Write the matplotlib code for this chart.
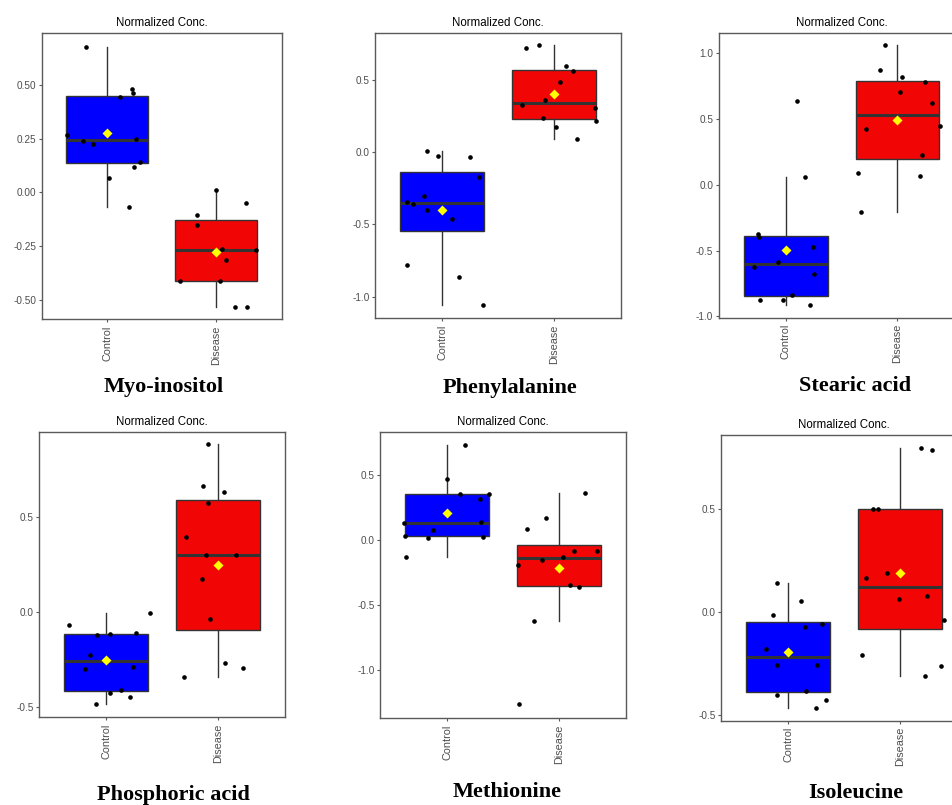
import matplotlib
matplotlib.use("Agg")
import matplotlib.pyplot as plt
import numpy as np

W, H = 953, 805

groups = ["Control", "Disease"]
names = ["Myo-inositol", "Phenylalanine", "Stearic acid",
         "Phosphoric acid", "Methionine", "Isoleucine"]

# --- values ---
myo_ctrl = [0.678, 0.266, 0.241, 0.226, 0.444, 0.480, 0.464, 0.250, 0.120, 0.140, 0.066, -0.067]
myo_ctrl_jit = [-0.19, -0.37, -0.22, -0.13, 0.12, 0.23, 0.24, 0.26, 0.25, 0.30, 0.02, 0.20]
myo_dis = [0.010, -0.105, -0.151, -0.050, -0.264, -0.314, -0.266, -0.412, -0.412, -0.531, -0.531]
myo_dis_jit = [0.0, -0.18, -0.18, 0.27, 0.05, 0.09, 0.36, -0.33, 0.03, 0.17, 0.28]

phe_ctrl = [0.010, -0.024, -0.033, -0.172, -0.304, -0.348, -0.357, -0.401, -0.465, -0.779, -0.865, -1.057]
phe_ctrl_jit = [-0.14, -0.04, 0.25, 0.33, -0.16, -0.32, -0.26, -0.14, 0.09, -0.32, 0.15, 0.36]
phe_dis = [0.724, 0.740, 0.599, 0.560, 0.486, 0.364, 0.324, 0.304, 0.239, 0.214, 0.177, 0.089]
phe_dis_jit = [-0.25, -0.13, 0.11, 0.17, 0.05, -0.08, -0.29, 0.37, -0.10, 0.38, 0.02, 0.21]

ste_ctrl = [0.639, 0.061, -0.370, -0.400, -0.474, -0.586, -0.624, -0.679, -0.837, -0.875, -0.875, -0.913]
ste_ctrl_jit = [0.10, 0.17, -0.25, -0.24, 0.24, -0.07, -0.28, 0.25, 0.06, -0.23, -0.02, 0.22]
ste_dis = [1.060, 0.872, 0.821, 0.783, 0.707, 0.619, 0.446, 0.421, 0.228, 0.091, 0.066, -0.203]
ste_dis_jit = [-0.11, -0.16, 0.04, 0.25, 0.02, 0.31, 0.38, -0.28, 0.22, -0.35, 0.20, -0.33]

pho_ctrl = [-0.070, -0.007, -0.121, -0.115, -0.108, -0.227, -0.299, -0.290, -0.409, -0.425, -0.446, -0.484]
pho_ctrl_jit = [-0.33, 0.39, -0.08, 0.03, 0.27, -0.15, -0.19, 0.24, 0.13, 0.03, 0.21, -0.09]
pho_dis = [0.879, 0.663, 0.629, 0.572, 0.393, 0.301, 0.301, 0.173, -0.038, -0.266, -0.292, -0.343]
pho_dis_jit = [-0.09, -0.13, 0.05, -0.09, -0.29, -0.11, 0.16, -0.14, -0.07, 0.06, 0.22, -0.30]

met_ctrl = [0.733, 0.476, 0.360, 0.319, 0.357, 0.134, 0.139, 0.080, 0.033, 0.021, 0.026, -0.126]
met_ctrl_jit = [0.16, 0.0, 0.11, 0.29, 0.37, -0.39, 0.30, -0.13, -0.38, -0.17, 0.32, -0.37]
met_dis = [0.365, 0.175, 0.085, -0.080, -0.085, -0.126, -0.154, -0.190, -0.347, -0.357, -0.622, -1.260]
met_dis_jit = [0.23, -0.12, -0.29, 0.34, 0.13, 0.04, -0.15, -0.37, 0.10, 0.18, -0.22, -0.36]

ile_ctrl = [0.143, 0.053, -0.016, -0.071, -0.058, -0.178, -0.259, -0.258, -0.405, -0.384, -0.425, -0.465]
ile_ctrl_jit = [-0.10, 0.11, -0.14, 0.15, 0.30, -0.20, -0.10, 0.26, -0.10, 0.16, 0.34, 0.25]
ile_dis = [0.799, 0.788, 0.501, 0.501, 0.188, 0.167, 0.078, 0.065, -0.039, -0.209, -0.263, -0.313]
ile_dis_jit = [0.19, 0.29, -0.24, -0.20, -0.12, -0.30, 0.24, -0.01, 0.39, -0.34, 0.37, 0.22]

ticks = [
    [-0.5, -0.25, 0.0, 0.25, 0.5],
    [-1.0, -0.5, 0.0, 0.5],
    [-1.0, -0.5, 0.0, 0.5, 1.0],
    [-0.5, 0.0, 0.5],
    [-1.0, -0.5, 0.0, 0.5],
    [-0.5, 0.0, 0.5],
]
tick_fmt = ["%.2f", "%.1f", "%.1f", "%.1f", "%.1f", "%.1f"]
ylims = [(-0.590, 0.740), (-1.151, 0.828), (-1.010, 1.157),
         (-0.552, 0.942), (-1.373, 0.833), (-0.528, 0.862)]

data = [
    (myo_ctrl, myo_ctrl_jit, myo_dis, myo_dis_jit),
    (phe_ctrl, phe_ctrl_jit, phe_dis, phe_dis_jit),
    (ste_ctrl, ste_ctrl_jit, ste_dis, ste_dis_jit),
    (pho_ctrl, pho_ctrl_jit, pho_dis, pho_dis_jit),
    (met_ctrl, met_ctrl_jit, met_dis, met_dis_jit),
    (ile_ctrl, ile_ctrl_jit, ile_dis, ile_dis_jit),
]

# layout in pixels: (left, top, right, bottom) of each axes
boxes_px = [
    (41.7, 33.3, 281.7, 319.3),
    (375.3, 32.7, 621.0, 318.3),
    (718.7, 32.7, 964.4, 317.7),
    (39.3, 432.3, 285.0, 717.3),
    (380.3, 432.3, 626.0, 718.3),
    (721.3, 434.7, 967.0, 720.7),
]
label_px = [(164, 387), (510, 388), (855, 386), (173, 795), (507, 792), (856, 793)]

colors = ["#0000FF", "#F20505"]
edge = "#333333"
spine_col = "#5a5a5a"

fig = plt.figure(figsize=(W / 100, H / 100), dpi=100)
fig.patch.set_facecolor("white")

for i in range(6):
    l, t, r, b = boxes_px[i]
    ax = fig.add_axes([l / W, 1 - b / H, (r - l) / W, (b - t) / H])
    ctrl, cj, dis, dj = data[i]
    bp = ax.boxplot([ctrl, dis], positions=[1, 2], widths=0.75, patch_artist=True,
                    showfliers=False, showcaps=False, whis=1.5,
                    medianprops=dict(color=edge, linewidth=2.2),
                    whiskerprops=dict(color=edge, linewidth=1.0),
                    boxprops=dict(edgecolor=edge, linewidth=1.0), zorder=1)
    for patch, c in zip(bp["boxes"], colors):
        patch.set_facecolor(c)
    for k, (vals, jit) in enumerate([(ctrl, cj), (dis, dj)]):
        x = (k + 1) + np.asarray(jit)
        ax.scatter(x, vals, s=11, color="black", zorder=3, linewidths=0)
        ax.scatter([k + 1], [np.mean(vals)], marker="D", s=26, color="#FFFF00",
                   zorder=4, linewidths=0)
    ax.set_xlim(0.4, 2.6)
    ax.set_ylim(*ylims[i])
    ax.set_yticks(ticks[i])
    ax.set_yticklabels([tick_fmt[i] % v for v in ticks[i]])
    ax.set_xticks([1, 2])
    ax.set_xticklabels(groups, rotation=90)
    ax.tick_params(axis="y", labelsize=7.2, labelcolor="#4d4d4d", color=spine_col,
                   length=2.5, width=0.8, pad=1.5)
    ax.tick_params(axis="x", labelsize=7.8, labelcolor="#4d4d4d", color=spine_col,
                   length=2.5, width=0.8, pad=2)
    for lab in ax.get_yticklabels() + ax.get_xticklabels():
        lab.set_family("Liberation Sans")
    for sp in ax.spines.values():
        sp.set_color(spine_col)
        sp.set_linewidth(1.0)
    ax.set_title("Normalized Conc.", fontsize=8.3, family="Liberation Sans", pad=5)
    lx, ly = label_px[i]
    fig.text(lx / W, 1 - ly / H, names[i], ha="center", va="center",
             fontsize=16, fontweight="bold", family="Liberation Serif")

fig.savefig("out.png", dpi=100, facecolor="white")
